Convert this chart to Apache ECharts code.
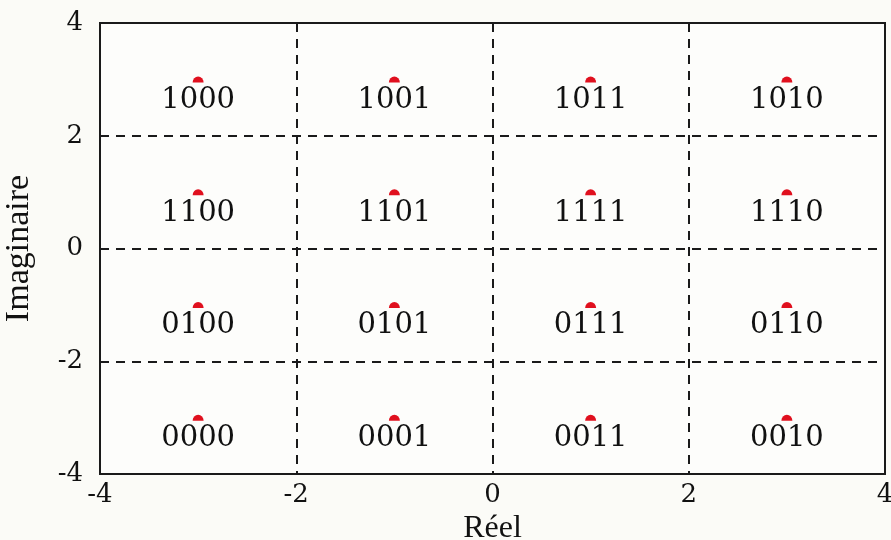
<!DOCTYPE html>
<html>
<head>
<meta charset="utf-8">
<script src="https://cdn.jsdelivr.net/npm/echarts@6/dist/echarts.min.js"></script>
<style>
  html, body { margin: 0; padding: 0; background: #fbfbf7; }
  #chart { width: 891px; height: 540px; }
</style>
</head>
<body>
<div id="chart"></div>
<script>
// 16-QAM constellation: in-phase / quadrature levels and Gray-coded symbols
const reelLevels = [-3, -1, 1, 3];
const imagLevels = [3, 1, -1, -3];
const codeRows = [
  ['1000', '1001', '1011', '1010'],
  ['1100', '1101', '1111', '1110'],
  ['0100', '0101', '0111', '0110'],
  ['0000', '0001', '0011', '0010']
];
const axisTicks = [-4, -2, 0, 2, 4];

const points = [];
imagLevels.forEach((im, r) => {
  reelLevels.forEach((re, c) => {
    points.push({ value: [re, im], name: codeRows[r][c] });
  });
});

const serif = 'DejaVu Serif';
const chart = echarts.init(document.getElementById('chart'));
chart.setOption({
  backgroundColor: '#fbfbf7',
  animation: false,
  grid: {
    left: 100, right: 6, top: 23, bottom: 66,
    outerBoundsMode: 'none', containLabel: false,
    show: true, borderColor: '#1a1a1a', borderWidth: 2,
    backgroundColor: '#fdfdfb'
  },
  xAxis: {
    type: 'value',
    min: axisTicks[0], max: axisTicks[axisTicks.length - 1], interval: 2,
    name: 'Réel', nameLocation: 'middle', nameGap: 32,
    nameTextStyle: { fontFamily: 'Liberation Serif', fontSize: 32, color: '#111' },
    axisLine: { show: false }, axisTick: { show: false },
    axisLabel: { fontFamily: serif, fontSize: 26, color: '#111', margin: 8 },
    splitLine: { show: true, lineStyle: { color: '#1a1a1a', width: 2, type: [9, 7] } }
  },
  yAxis: {
    type: 'value',
    min: axisTicks[0], max: axisTicks[axisTicks.length - 1], interval: 2,
    name: 'Imaginaire', nameLocation: 'middle', nameGap: 64, nameRotate: 90,
    nameTextStyle: { fontFamily: 'Liberation Serif', fontSize: 34, color: '#111' },
    axisLine: { show: false }, axisTick: { show: false },
    axisLabel: { fontFamily: serif, fontSize: 26, color: '#111', margin: 17 },
    splitLine: { show: true, lineStyle: { color: '#1a1a1a', width: 2, type: [9, 7] } }
  },
  series: [{
    type: 'scatter',
    data: points,
    symbol: 'path://M0,10 A10,10 0 0 1 20,10 Z',
    symbolSize: [11, 6],
    itemStyle: { color: '#e0101e', opacity: 1 },
    label: {
      show: true,
      position: 'bottom',
      distance: 4,
      formatter: p => p.name,
      fontFamily: serif,
      fontSize: 29,
      lineHeight: 28,
      color: '#111',
      opacity: 1
    }
  }]
});
</script>
</body>
</html>
